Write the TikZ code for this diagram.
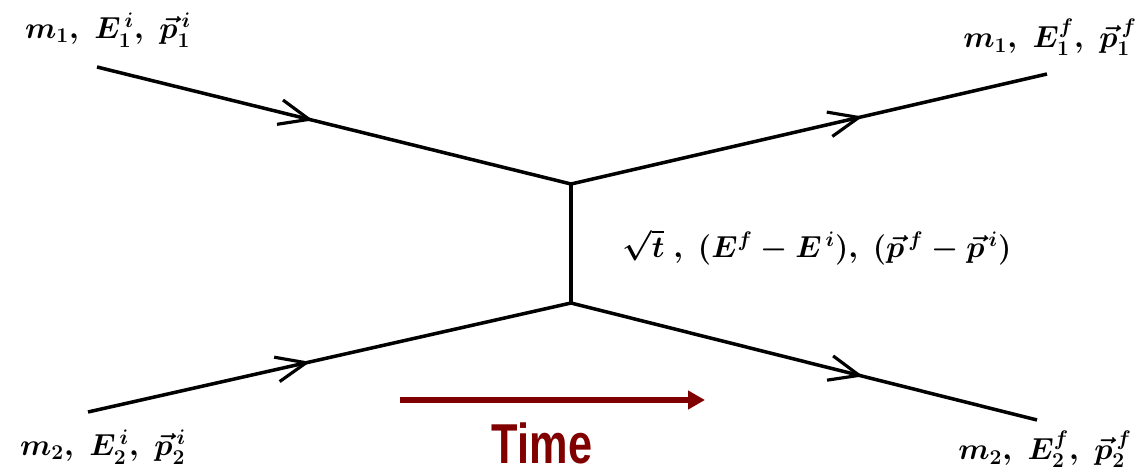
\documentclass[tikz,border=0pt]{standalone}
\usepackage{fontspec}
\usepackage{amsmath}
\usepackage{graphicx}
\newfontfamily\timefont{Liberation Sans}
\usetikzlibrary{arrows.meta,decorations.markings}
\definecolor{timered}{HTML}{800000}
\begin{document}
\begin{tikzpicture}[x=0.02cm, y=-0.02cm, >=latex]
    \tikzset{
        leg/.style={line width=2pt},
        midarrow/.style={postaction={decorate}, decoration={markings,
            mark=at position #1 with {\arrow[line width=1.8pt]{Straight Barb[length=6mm,width=5mm]}}}},
        kin/.style={font=\fontsize{17}{20}\selectfont\boldmath, inner sep=0pt},
        timearrow/.style={draw=timered, line width=3.4pt, -{Triangle[length=3.4mm,width=3.6mm]}}
    }
    \useasboundingbox (0,0) rectangle (1146,476);
    \coordinate (in1) at (97,67);
    \coordinate (in2) at (88,412);
    \coordinate (out1) at (1047,74);
    \coordinate (out2) at (1037,420);
    \coordinate (vtop) at (571,184);
    \coordinate (vbot) at (571,303);
    \coordinate (tstart) at (400,400);
    \coordinate (tend) at (705,400);
    \node[kin] (lab1i) at (108,30) {$m_1,\; E_1^{\,i},\; \vec p_1^{\,i}$};
    \node[kin] (lab1f) at (1050,37) {$m_1,\; E_1^{f},\; \vec p_1^{\,f}$};
    \node[kin] (lab2i) at (103,447) {$m_2,\; E_2^{\,i},\; \vec p_2^{\,i}$};
    \node[kin] (lab2f) at (1045,449) {$m_2,\; E_2^{f},\; \vec p_2^{\,f}$};
    \node[kin] (exch) at (817,247) {$\sqrt{t}\ ,\ (E^{f}-E^{\,i}),\ (\vec p^{\,f}-\vec p^{\,i})$};
    \node[font=\timefont\bfseries\fontsize{32}{36}\selectfont, text=timered] (time) at (542,443) {\scalebox{0.77}[1]{Time}};
    \draw[leg, midarrow=0.456] (in1) -- (vtop);
    \draw[leg, midarrow=0.613] (vtop) -- (out1);
    \draw[leg, midarrow=0.46] (in2) -- (vbot);
    \draw[leg, midarrow=0.627] (vbot) -- (out2);
    \draw[leg] (vtop) -- (vbot);
    \draw[timearrow] (tstart) -- (tend);
\end{tikzpicture}
\end{document}
